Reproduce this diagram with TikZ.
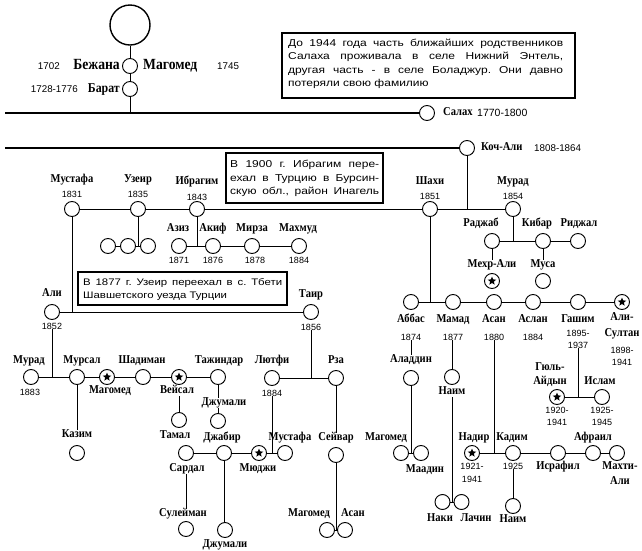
\documentclass[tikz,border=0pt]{standalone}
\usepackage{fontspec}
\setmainfont{Liberation Serif}
\newfontfamily\namef{Liberation Serif}[FakeStretch=0.88]
\newfontfamily\sansf{Liberation Sans}
\newfontfamily\notef{Liberation Sans}[FakeStretch=1.2]
\usetikzlibrary{shapes.geometric}
\tikzset{
 pc/.style={circle,draw,line width=0.95pt,minimum size=15pt,inner sep=0pt,fill=white},
 ps/.style={pc,path picture={\node[star,star points=5,star point ratio=2.3,fill=black,inner sep=0pt,minimum size=9pt] at (path picture bounding box.center) {};}},
 nm/.style={font=\namef\fontsize{12}{13}\selectfont\bfseries,inner sep=0pt,text height=8pt,text depth=2.2pt},
 nmM/.style={font=\namef\fontsize{13.5}{15}\selectfont\bfseries,inner sep=0pt,text height=9pt,text depth=2.4pt},
 nmL/.style={font=\namef\fontsize{15.5}{17}\selectfont\bfseries,inner sep=0pt,text height=10.3pt,text depth=2.8pt},
 yr/.style={font=\sansf\fontsize{9}{10}\selectfont,inner sep=0pt,text height=6.5pt,text depth=0pt},
 yrL/.style={font=\sansf\fontsize{9.8}{11}\selectfont,inner sep=0pt,text height=7pt,text depth=0pt},
 ln/.style={line width=0.95pt},
 note/.style={draw,line width=1.6pt,inner sep=0pt},
 ntxt/.style={font=\notef\fontsize{10}{13.4}\selectfont\frenchspacing,inner sep=0pt,align=left},
}
\begin{document}
\begin{tikzpicture}[x=1pt,y=-1pt]
\useasboundingbox (0,0) rectangle (642,550);
% ---------- top
\node[circle,draw,line width=1.4pt,minimum size=40pt,inner sep=0pt] (root) at (130,25) {};
\node[pc] (bm) at (130,66) {};
\node[pc] (barat) at (130,89) {};
\coordinate (jB) at (130,113);
\draw[ln] (root) -- (bm);
\draw[ln] (bm) -- (barat);
\draw[ln] (barat) -- (jB);
\node[nmL,anchor=east] (lBezh) at (120,66) {Бежана};
\node[nmL,anchor=west] (lMag0) at (143,66) {Магомед};
\node[yrL,anchor=east] (y1702) at (60,66) {1702};
\node[yrL,anchor=west] (y1745) at (217,66) {1745};
\node[nmM,anchor=east] (lBarat) at (120,89) {Барат};
\node[yrL,anchor=east] (y1728) at (78,89) {1728-1776};
% ---------- Salakh line
\coordinate (L1) at (5,113);
\node[pc] (salakh) at (427,113) {};
\draw[line width=1.8pt] (L1) -- (salakh);
\node[nm,anchor=west] (lSalakh) at (443,113) {Салах};
\node[yrL,anchor=west,font=\sansf\fontsize{10.5}{12}\selectfont] (ySalakh) at (477,113) {1770-1800};
% note 1
\node[note,minimum width=293pt,minimum height=65pt] (box1) at (428.5,65.5) {};
\node[ntxt,anchor=west] (t1) at (288,64) {\makebox[275pt][s]{До 1944 года часть ближайших родственников}\\\makebox[275pt][s]{Салаха проживала в селе Нижний Энтель,}\\\makebox[275pt][s]{другая часть - в селе Боладжур. Они давно}\\потеряли свою фамилию};
% ---------- Koch-Ali line
\coordinate (L2) at (5,148);
\node[pc] (koch) at (467,148) {};
\draw[line width=1.3pt] (L2) -- (koch);
\node[nm,anchor=west] (lKoch) at (481,148) {Коч-Али};
\node[yrL,anchor=west] (yKoch) at (534,148) {1808-1864};
\coordinate (jK) at (467,209);
\draw[ln] (koch) -- (jK);
% ---------- generation 2
\node[pc] (mustafa) at (72,209) {};
\node[pc] (uzeir) at (138,209) {};
\node[pc] (ibragim) at (197,209) {};
\node[pc] (shakhi) at (430,209) {};
\node[pc] (murad) at (513,209) {};
\draw[ln] (mustafa) -- (uzeir) -- (ibragim) -- (shakhi) -- (murad);
\node[nm] (lMustafa) at (72,180) {Мустафа};
\node[yr] (yMustafa) at (72,194) {1831};
\node[nm] (lUzeir) at (138,180) {Узеир};
\node[yr] (yUzeir) at (138,194) {1835};
\node[nm] (lIbragim) at (197,182) {Ибрагим};
\node[yr] (yIbragim) at (197,197) {1843};
\node[nm] (lShakhi) at (430,182) {Шахи};
\node[yr] (yShakhi) at (430,196) {1851};
\node[nm] (lMurad) at (513,182) {Мурад};
\node[yr] (yMurad) at (513,196) {1854};
% note 2
\node[note,minimum width=157pt,minimum height=50pt] (box2) at (304.5,178) {};
\node[ntxt,anchor=west] (t2) at (230,178.5) {\makebox[149pt][s]{В 1900 г. Ибрагим пере-}\\\makebox[149pt][s]{ехал в Турцию в Бурсин-}\\\makebox[149pt][s]{скую обл., район Инагель}};
% Uzeir children
\node[pc] (u1) at (108,246) {};
\node[pc] (u2) at (128,246) {};
\node[pc] (u3) at (148,246) {};
\draw[ln] (u1) -- (u2) -- (u3);
\draw[ln] (uzeir) -- (uzeir |- u2);
% Ibragim children
\node[pc] (aziz) at (179,246) {};
\node[pc] (akif) at (213,246) {};
\node[pc] (mirza) at (252,246) {};
\node[pc] (makhmud) at (299,246) {};
\draw[ln] (aziz) -- (akif) -- (mirza) -- (makhmud);
\draw[ln] (ibragim) -- (ibragim |- aziz);
\node[nm] (lAziz) at (178,229) {Азиз};
\node[nm] (lAkif) at (213,229) {Акиф};
\node[nm] (lMirza) at (252,229) {Мирза};
\node[nm] (lMakhmud) at (298,229) {Махмуд};
\node[yr] (yAziz) at (179,260) {1871};
\node[yr] (yAkif) at (213,260) {1876};
\node[yr] (yMirza) at (255,260) {1878};
\node[yr] (yMakhmud) at (299,260) {1884};
% ---------- Ali / Tair
\node[pc] (ali) at (52,312) {};
\node[pc] (tair) at (311,312) {};
\draw[ln] (ali) -- (tair);
\draw[ln] (mustafa) -- (mustafa |- ali);
\node[nm] (lAli) at (52,294) {Али};
\node[yr] (yAli) at (52,326) {1852};
\node[nm] (lTair) at (311,295) {Таир};
\node[yr] (yTair) at (311,327) {1856};
% note 3
\node[note,minimum width=209pt,minimum height=33pt] (box3) at (182.5,288.5) {};
\node[ntxt,anchor=west,font=\notef\fontsize{9.5}{13}\selectfont\frenchspacing] (t3) at (83,289) {\makebox[199pt][s]{В 1877 г. Узеир переехал в с. Тбети}\\Шавшетского уезда Турции};
% ---------- Ali children
\coordinate (jA) at (52,377);
\draw[ln] (yAli) -- (jA);
\node[pc] (murad2) at (31,377) {};
\node[pc] (mursal) at (77,377) {};
\node[ps] (magomed1) at (107,377) {};
\node[pc] (shadiman) at (143,377) {};
\node[ps] (veisal) at (179,377) {};
\node[pc] (tazh) at (218,377) {};
\draw[ln] (murad2) -- (mursal) -- (magomed1) -- (shadiman) -- (veisal) -- (tazh);
\node[nm] (lMurad2) at (29,361) {Мурад};
\node[yr] (yMurad2) at (30,392) {1883};
\node[nm] (lMursal) at (82,361) {Мурсал};
\node[nm] (lMagomed1) at (110,391) {Магомед};
\node[nm] (lShadiman) at (142,361) {Шадиман};
\node[nm] (lVeisal) at (177,391) {Вейсал};
\node[nm] (lTazh) at (219,361) {Тажиндар};
% Mursal -> Kazim
\node[nm] (lKazim) at (77,435) {Казим};
\node[pc] (kazim) at (77,453) {};
\draw[ln] (mursal) -- (lKazim);
% Veisal -> Tamal
\node[pc] (tamal) at (179,420) {};
\node[nm] (lTamal) at (175,436) {Тамал};
\draw[ln] (tamal |- lVeisal.south) -- (tamal);
% Tazhindar -> Dzhumali
\node[nm] (lDzhum1) at (224,403) {Джумали};
\node[pc] (dzhum1) at (218,421) {};
\draw[ln] (tazh) -- (tazh |- lDzhum1.north);
\draw[ln] (dzhum1 |- lDzhum1.south) -- (dzhum1);
% ---------- Tair children
\node[pc] (lutfi) at (272,378) {};
\node[pc] (rza) at (336,378) {};
\draw[ln] (lutfi) -- (rza);
\draw[ln] (yTair) -- (tair |- lutfi);
\node[nm] (lLutfi) at (272,361) {Лютфи};
\node[yr] (yLutfi) at (272,393) {1884};
\node[nm] (lRza) at (336,361) {Рза};
% Lutfi children
\coordinate (jL) at (272,453);
\draw[ln] (yLutfi) -- (jL);
\node[pc] (sardal) at (186,453) {};
\node[pc] (dzhabir) at (224,453) {};
\node[ps] (myudzhi) at (259,453) {};
\node[pc] (mustafa2) at (285,453) {};
\draw[ln] (sardal) -- (dzhabir) -- (myudzhi) -- (mustafa2);
\node[nm] (lDzhabir) at (222,438) {Джабир};
\node[nm] (lMustafa2) at (290,438) {Мустафа};
\node[nm] (lSardal) at (187,469) {Сардал};
\node[nm] (lMyudzhi) at (258,469) {Мюджи};
% Sardal -> Suleiman
\node[nm] (lSuleiman) at (183,514) {Сулейман};
\node[pc] (suleiman) at (186,529) {};
\draw[ln] (sardal |- lSardal.south) -- (sardal |- lSuleiman.north);
% Dzhabir -> Dzhumali
\node[pc] (dzhum2) at (225,530) {};
\node[nm] (lDzhum2) at (225,545) {Джумали};
\draw[ln] (dzhabir) -- (dzhabir |- dzhum2.north);
% Rza -> Seivar
\node[nm] (lSeivar) at (336,438) {Сейвар};
\node[pc] (seivar) at (336,455) {};
\draw[ln] (rza) -- (rza |- lSeivar.north);
\node[nm] (lMagomed2) at (309,514) {Магомед};
\node[nm] (lAsan2) at (353,514) {Асан};
\node[pc] (magomed2) at (327,530) {};
\node[pc] (asan2) at (345,530) {};
\coordinate (jSe) at (336,530);
\draw[ln] (magomed2) -- (asan2);
\draw[ln] (seivar) -- (jSe);
% ---------- Shakhi children
\node[pc] (abbas) at (411,302) {};
\node[pc] (mamad) at (453,302) {};
\node[pc] (asan) at (494,302) {};
\node[pc] (aslan) at (533,302) {};
\node[pc] (gashim) at (578,302) {};
\node[ps] (alisultan) at (622,302) {};
\draw[ln] (abbas) -- (mamad) -- (asan) -- (aslan) -- (gashim) -- (alisultan);
\draw[ln] (shakhi) -- (shakhi |- abbas);
\node[nm] (lAbbas) at (411,320) {Аббас};
\node[nm] (lMamad) at (453,320) {Мамад};
\node[nm] (lAsan) at (494,320) {Асан};
\node[nm] (lAslan) at (533,320) {Аслан};
\node[nm] (lGashim) at (578,320) {Гашим};
\node[nm] (lAliS1) at (622,318) {Али-};
\node[nm] (lAliS2) at (622,334) {Султан};
\node[yr] (yAbbas) at (411,337) {1874};
\node[yr] (yMamad) at (453,337) {1877};
\node[yr] (yAsan) at (494,337) {1880};
\node[yr] (yAslan) at (533,337) {1884};
\node[yr] (yGashim1) at (578,333) {1895-};
\node[yr] (yGashim2) at (578,345) {1937};
\node[yr] (yAliS1) at (622,350) {1898-};
\node[yr] (yAliS2) at (622,362) {1941};
% ---------- Murad children
\node[pc] (radzhab) at (492,241) {};
\node[pc] (kibar) at (543,241) {};
\node[pc] (ridzhal) at (578,241) {};
\draw[ln] (radzhab) -- (kibar) -- (ridzhal);
\draw[ln] (murad) -- (murad |- radzhab);
\node[nm] (lRadzhab) at (481,224) {Раджаб};
\node[nm] (lKibar) at (537,224) {Кибар};
\node[nm] (lRidzhal) at (579,224) {Риджал};
\node[nm] (lMekhr) at (492,265) {Мехр-Али};
\node[ps] (mekhr) at (492,281) {};
\node[nm] (lMusa) at (543,265) {Муса};
\node[pc] (musa) at (543,281) {};
\draw[ln] (radzhab) -- (lMekhr);
\draw[ln] (kibar) -- (lMusa);
% ---------- Abbas -> Aladdin
\node[nm] (lAladdin) at (411,360) {Аладдин};
\node[pc] (aladdin) at (411,378) {};
\draw[ln] (yAbbas) -- (lAladdin);
\node[pc] (magomed3) at (401,453) {};
\node[pc] (maadin) at (421,453) {};
\coordinate (jAl) at (411,453);
\draw[ln] (magomed3) -- (maadin);
\draw[ln] (aladdin) -- (jAl);
\node[nm] (lMagomed3) at (386,438) {Магомед};
\node[nm] (lMaadin) at (425,470) {Маадин};
% ---------- Mamad -> Naim
\node[pc] (naim1) at (452,377) {};
\node[nm] (lNaim1) at (452,392) {Наим};
\draw[ln] (yMamad.south -| naim1) -- (naim1);
\node[pc] (naki) at (442.5,502) {};
\node[pc] (lachin) at (461.5,502) {};
\coordinate (jN) at (452,502);
\draw[ln] (naki) -- (lachin);
\draw[ln] (lNaim1) -- (jN);
\node[nm] (lNaki) at (440,519) {Наки};
\node[nm] (lLachin) at (476,519) {Лачин};
% ---------- Asan children
\coordinate (jAs) at (494,453);
\draw[ln] (yAsan) -- (jAs);
\node[ps] (nadir) at (472,453) {};
\node[pc] (kadim) at (513,453) {};
\node[pc] (israfil) at (558,453) {};
\node[pc] (afrail) at (593,453) {};
\node[pc] (makhti) at (617,453) {};
\draw[ln] (nadir) -- (kadim) -- (israfil) -- (afrail) -- (makhti);
\node[nm] (lNadir) at (474,438) {Надир};
\node[yr] (yNadir1) at (472,466) {1921-};
\node[yr] (yNadir2) at (472,479) {1941};
\node[nm] (lKadim) at (512,438) {Кадим};
\node[yr] (yKadim) at (513,466) {1925};
\node[nm] (lIsrafil) at (558,467) {Исрафил};
\node[nm] (lAfrail) at (593,438) {Афраил};
\node[nm] (lMakhti1) at (620,467) {Махти-};
\node[nm] (lMakhti2) at (620,482) {Али};
\node[pc] (naim2) at (513,506) {};
\node[nm] (lNaim2) at (513,520) {Наим};
\draw[ln] (yKadim) -- (naim2);
% ---------- Gashim children
\coordinate (jG) at (578,397);
\draw[ln] (yGashim2) -- (jG);
\node[ps] (gyul) at (557,397) {};
\node[pc] (islam) at (602,397) {};
\draw[ln] (gyul) -- (islam);
\node[nm] (lGyul1) at (550,368) {Гюль-};
\node[nm] (lGyul2) at (550,382) {Айдын};
\node[nm] (lIslam) at (600,382) {Ислам};
\node[yr] (yGyul1) at (557,410) {1920-};
\node[yr] (yGyul2) at (557,422) {1941};
\node[yr] (yIslam1) at (602,410) {1925-};
\node[yr] (yIslam2) at (602,422) {1945};
\end{tikzpicture}
\end{document}
